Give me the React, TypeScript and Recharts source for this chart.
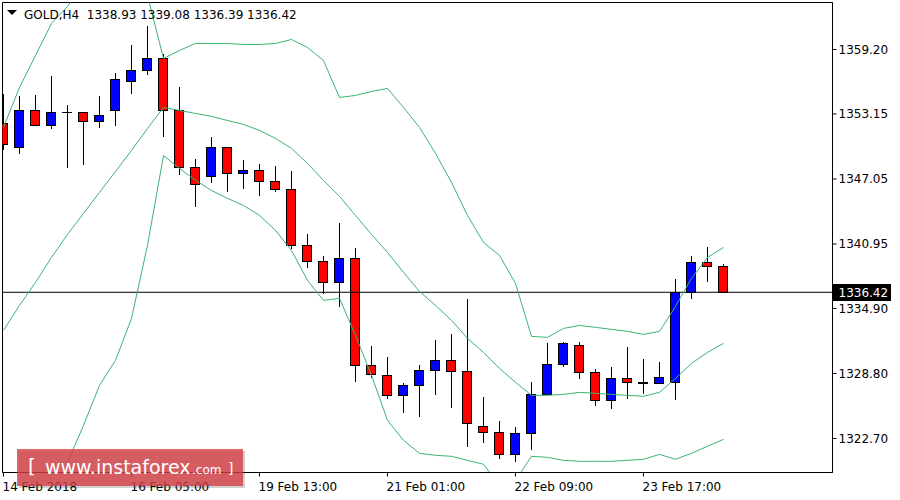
import { Bar, ComposedChart, Line, ReferenceArea, ReferenceLine, XAxis, YAxis } from 'recharts'

const FONT = '"DejaVu Sans", Verdana, sans-serif'

// GOLD H4 candles, oldest first
const opens = [1352.26, 1350.01, 1353.57, 1352.16, 1353.29, 1353.29, 1352.45, 1353.48, 1356.29, 1357.32, 1358.36, 1353.57, 1348.13, 1347.29, 1350.01, 1347.57, 1347.85, 1346.82, 1346.07, 1340.82, 1339.31, 1337.34, 1339.60, 1329.56, 1328.62, 1326.75, 1327.68, 1329.09, 1330.03, 1329.00, 1323.84, 1323.27, 1321.21, 1323.18, 1326.84, 1329.65, 1331.44, 1328.90, 1326.28, 1328.34, 1327.96, 1327.87, 1327.96, 1336.42, 1339.22, 1338.93]
const highs = [1354.98, 1354.79, 1354.89, 1356.76, 1353.95, 1353.38, 1354.79, 1356.95, 1359.58, 1361.36, 1358.82, 1355.64, 1348.88, 1350.95, 1350.01, 1348.79, 1348.41, 1348.23, 1347.76, 1341.85, 1339.78, 1342.88, 1340.53, 1331.34, 1330.31, 1327.87, 1329.56, 1331.90, 1332.47, 1335.75, 1326.56, 1324.31, 1323.74, 1327.96, 1331.62, 1331.72, 1331.72, 1329.18, 1329.37, 1331.25, 1330.12, 1329.84, 1337.63, 1339.78, 1340.63, 1339.08]
const lows = [1349.73, 1349.35, 1351.98, 1351.70, 1348.04, 1348.32, 1351.88, 1351.98, 1354.98, 1356.85, 1350.95, 1347.38, 1344.38, 1346.63, 1345.79, 1346.07, 1345.41, 1345.79, 1340.44, 1338.66, 1336.22, 1335.00, 1327.96, 1328.34, 1326.37, 1325.06, 1324.68, 1326.75, 1325.53, 1321.87, 1322.24, 1320.74, 1320.46, 1321.59, 1326.84, 1329.37, 1328.25, 1325.71, 1325.43, 1326.37, 1326.84, 1327.87, 1326.28, 1335.75, 1337.34, 1336.39]
const closes = [1350.29, 1353.57, 1352.16, 1353.29, 1353.29, 1352.45, 1353.10, 1356.39, 1357.32, 1358.36, 1353.57, 1348.13, 1346.54, 1350.01, 1347.57, 1347.94, 1346.82, 1346.07, 1340.82, 1339.31, 1337.34, 1339.60, 1329.56, 1328.71, 1326.75, 1327.68, 1329.09, 1330.03, 1329.00, 1324.12, 1323.27, 1321.21, 1323.18, 1326.84, 1329.65, 1331.62, 1328.90, 1326.28, 1328.34, 1327.96, 1327.87, 1328.43, 1336.42, 1339.22, 1338.93, 1336.42]

// Bollinger bands
const upperBand = [1351.89, 1355.64, 1358.64, 1361.64, 1363.24, 1365.21, 1366.61, 1367.36, 1366.61, 1364.27, 1358.36, 1359.11, 1359.77, 1359.77, 1359.77, 1359.67, 1359.67, 1359.77, 1360.14, 1359.39, 1358.17, 1354.70, 1354.89, 1355.26, 1355.55, 1353.76, 1351.89, 1349.45, 1346.73, 1343.63, 1341.10, 1339.88, 1337.25, 1332.28, 1332.19, 1333.03, 1333.31, 1333.13, 1332.94, 1332.75, 1332.47, 1332.75, 1335.10, 1337.72, 1339.69, 1340.63]
const middleBand = [1332.85, 1335.19, 1337.35, 1339.69, 1341.85, 1343.82, 1345.79, 1347.76, 1349.73, 1351.79, 1353.76, 1353.48, 1353.20, 1352.92, 1352.54, 1352.17, 1351.61, 1350.86, 1349.92, 1348.51, 1346.92, 1345.42, 1343.63, 1341.85, 1340.16, 1338.29, 1336.50, 1335.19, 1333.78, 1332.10, 1330.78, 1329.28, 1327.97, 1326.75, 1326.75, 1326.84, 1327.03, 1326.94, 1326.84, 1326.75, 1326.66, 1327.03, 1328.34, 1329.75, 1330.78, 1331.63]
const lowerBand = [1309.40, 1311.27, 1314.09, 1317.09, 1320.46, 1323.93, 1327.69, 1330.03, 1333.97, 1340.82, 1349.26, 1348.04, 1346.92, 1345.98, 1345.23, 1344.57, 1343.63, 1342.23, 1340.35, 1337.54, 1335.66, 1335.85, 1332.38, 1328.62, 1324.40, 1322.53, 1321.31, 1321.12, 1321.03, 1320.65, 1320.28, 1318.31, 1318.78, 1321.03, 1320.93, 1320.65, 1320.56, 1320.56, 1320.56, 1320.65, 1320.75, 1321.21, 1320.75, 1321.31, 1321.97, 1322.62]

const timeTicks = [0, 8, 16, 24, 32, 40]
const timeLabels = ['14 Feb 2018', '16 Feb 05:00', '19 Feb 13:00', '21 Feb 01:00', '22 Feb 09:00', '23 Feb 17:00']
const priceTicks = [1322.70, 1328.80, 1334.90, 1340.95, 1347.05, 1353.15, 1359.20]
const lastPrice = 1336.42
const header = 'GOLD,H4  1338.93 1339.08 1336.39 1336.42'

const X_DOMAIN: [number, number] = [-0.0625, 51.8125]
const Y_DOMAIN: [number, number] = [1319.51, 1363.61]

const data = opens.map((open, i) => ({
    i,
    open,
    high: highs[i],
    low: lows[i],
    close: closes[i],
    range: [lows[i], highs[i]],
    upper: upperBand[i],
    middle: middleBand[i],
    lower: lowerBand[i],
}))

const Candle = (props: any) => {
    const { x, y, width, height, payload } = props
    if (!payload) return null
    const { open, close, high, low } = payload
    const top = Math.min(y, y + height)
    const h = Math.abs(height)
    const py = (v: number) => top + ((high - v) / (high - low)) * h
    const c = Math.floor(x + width / 2) + 0.5
    const bodyTop = Math.round(py(Math.max(open, close)))
    const bodyBottom = Math.round(py(Math.min(open, close)))
    const fill = close > open ? '#0000ff' : '#ff0000'
    return (
        <g>
            <line x1={c} x2={c} y1={Math.round(py(high))} y2={Math.round(py(low))} stroke="#000" />
            {bodyBottom === bodyTop ? (
                <line x1={c - 5.5} x2={c + 4.5} y1={bodyTop + 0.5} y2={bodyTop + 0.5} stroke="#000" />
            ) : (
                <rect x={c - 5} y={bodyTop + 0.5} width={9} height={bodyBottom - bodyTop} fill={fill} stroke="#000" />
            )}
        </g>
    )
}

const TimeTick = ({ x, y, payload }: any) => (
    <text x={x - 1} y={y + 12} textAnchor="start" fontSize={12} fontFamily={FONT} fill="#000">
        {timeLabels[timeTicks.indexOf(payload.value)]}
    </text>
)

const PriceTag = ({ viewBox }: any) => {
    if (!viewBox) return null
    const { x, y, width } = viewBox
    const right = x + width
    return (
        <g>
            <rect x={right + 0.5} y={Math.round(y) - 8} width={58} height={17} fill="#000" />
            <text x={right + 6} y={y} dy="0.36em" fill="#fff" fontSize={12} fontFamily={FONT}>
                {lastPrice.toFixed(2)}
            </text>
        </g>
    )
}

export default function App() {
    return (
        <div style={{ position: 'absolute', left: 0, top: 0, width: 900, height: 500, background: '#fff', fontFamily: FONT }}>
            <ComposedChart width={900} height={500} data={data} margin={{ top: 2.5, right: 0, bottom: 0, left: 2.5 }}>
                <XAxis
                    type="number"
                    dataKey="i"
                    domain={X_DOMAIN}
                    allowDataOverflow
                    ticks={timeTicks}
                    interval={0}
                    height={27.5}
                    tickSize={4}
                    tickMargin={2}
                    tick={<TimeTick />}
                    axisLine={{ stroke: '#000' }}
                    tickLine={{ stroke: '#000' }}
                />
                <YAxis
                    orientation="right"
                    domain={Y_DOMAIN}
                    allowDataOverflow
                    ticks={priceTicks}
                    interval={0}
                    width={67.5}
                    tickSize={4}
                    tickMargin={2}
                    tickFormatter={(v: number) => v.toFixed(2)}
                    tick={{ fill: '#000', fontSize: 12, fontFamily: FONT }}
                    axisLine={{ stroke: '#000' }}
                    tickLine={{ stroke: '#000' }}
                />
                <ReferenceArea
                    x1={X_DOMAIN[0]}
                    x2={X_DOMAIN[1]}
                    y1={Y_DOMAIN[0]}
                    y2={Y_DOMAIN[1]}
                    fill="none"
                    stroke="#000"
                    strokeOpacity={1}
                />
                <ReferenceLine y={lastPrice} stroke="#000" label={(p: any) => <PriceTag {...p} />} />
                <Bar dataKey="range" barSize={10} shape={<Candle />} isAnimationActive={false} />
                <Line dataKey="upper" type="linear" stroke="#3cb371" strokeWidth={1} dot={false} isAnimationActive={false} />
                <Line dataKey="middle" type="linear" stroke="#3cb371" strokeWidth={1} dot={false} isAnimationActive={false} />
                <Line dataKey="lower" type="linear" stroke="#3cb371" strokeWidth={1} dot={false} isAnimationActive={false} />
            </ComposedChart>
            <svg width={900} height={500} style={{ position: 'absolute', left: 0, top: 0, pointerEvents: 'none' }}>
                <polygon points="7,10 17,10 12,15" fill="#000" />
                <text x={24} y={19} fontSize={12} fontFamily={FONT} fill="#000" style={{ whiteSpace: 'pre' }}>
                    {header}
                </text>
                <rect x={19} y={451} width={226} height={37} fill="#000" opacity={0.18} />
                <rect x={17} y={449} width={226} height={37} fill="rgb(214,64,70)" fillOpacity={0.8} />
                <text x={28} y={473} fontSize={20} fontFamily={FONT} fill="#fff">[</text>
                <text x={45} y={474} fontSize={19} fontFamily={FONT} fill="#fff">www.instaforex</text>
                <text x={192} y={474} fontSize={12} fontFamily={FONT} fill="#fff">.com</text>
                <text x={228} y={473} fontSize={14} fontFamily={FONT} fill="#fff">]</text>
            </svg>
        </div>
    )
}
